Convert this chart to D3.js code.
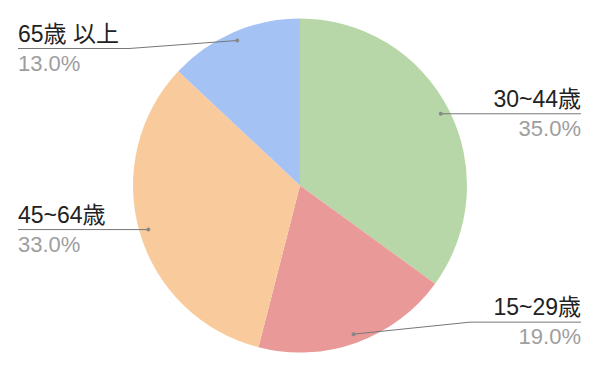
<!DOCTYPE html>
<html>
<head>
<meta charset="utf-8">
<script src="https://cdn.jsdelivr.net/npm/d3@7"></script>
<style>
  html, body { margin: 0; padding: 0; background: #fff; }
  svg { display: block; }
</style>
</head>
<body>
<div id="chart"></div>
<script>
'use strict';

// Age groups, in drawing order (clockwise from 12 o'clock)
const ageGroups = ['30~44歳', '15~29歳', '45~64歳', '65歳 以上'];
const shares = [35.0, 19.0, 33.0, 13.0];
const sliceColors = ['#b7d7a8', '#ea9999', '#f9cb9c', '#a4c2f4'];
// vertical nudge of each label line relative to its leader dot
const labelNudge = [0, -12, 0, 8];

const W = 600, H = 371;
const cx = 300, cy = 185.5, R = 167;
const edgeL = 18, edgeR = 581, elbowLen = 111;

const svg = d3.select('#chart').append('svg')
    .attr('width', W)
    .attr('height', H);

const pie = d3.pie().sort(null).value(d => d)(shares);
const arc = d3.arc().innerRadius(0).outerRadius(R);
const dotArc = d3.arc().innerRadius(R * 0.946).outerRadius(R * 0.946);

const g = svg.append('g').attr('transform', `translate(${cx},${cy})`);

g.selectAll('path')
    .data(pie)
    .join('path')
    .attr('d', arc)
    .attr('fill', (d, i) => sliceColors[i]);

// Labels with leader lines
const labels = svg.append('g')
    .attr('font-family', "'Liberation Sans', Arial, 'Noto Sans CJK JP', sans-serif");

pie.forEach((d, i) => {
    const [dx, dy] = dotArc.centroid(d);
    const px = cx + dx, py = cy + dy;
    const right = px > cx;
    const ly = py + labelNudge[i];
    const edge = right ? edgeR : edgeL;
    const elbowX = ly === py ? px : (right ? edge - elbowLen : edge + elbowLen);

    labels.append('path')
        .attr('d', d3.line()([[px, py], [elbowX, ly], [edge, ly]]))
        .attr('fill', 'none')
        .attr('stroke', '#777')
        .attr('stroke-width', 1);

    labels.append('circle')
        .attr('cx', px)
        .attr('cy', py)
        .attr('r', 2)
        .attr('fill', '#888');

    const anchor = right ? 'end' : 'start';
    labels.append('text')
        .attr('x', edge)
        .attr('y', ly - 7)
        .attr('text-anchor', anchor)
        .attr('font-size', 23)
        .attr('fill', '#222')
        .text(ageGroups[i]);

    labels.append('text')
        .attr('x', edge)
        .attr('y', ly + 22)
        .attr('text-anchor', anchor)
        .attr('font-size', 22)
        .attr('fill', '#9e9e9e')
        .text(shares[i].toFixed(1) + '%');
});
</script>
</body>
</html>
